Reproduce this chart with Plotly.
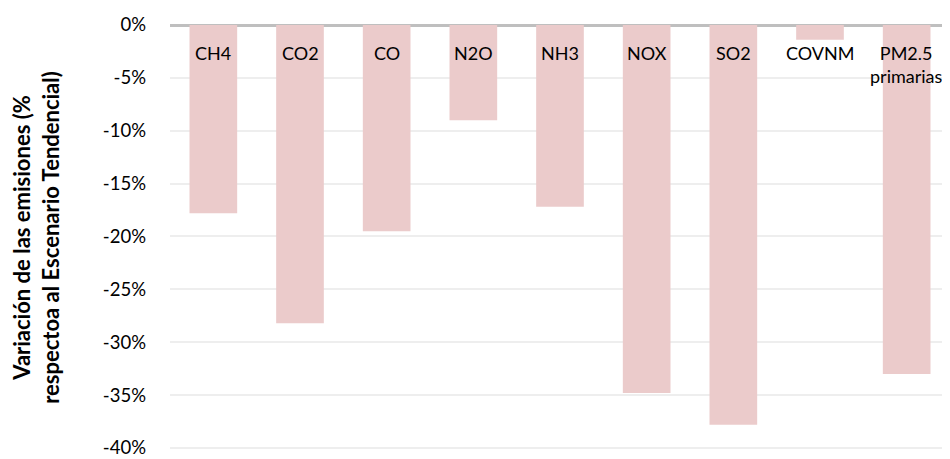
import plotly.graph_objects as go

categories = ["CH4", "CO2", "CO", "N2O", "NH3", "NOX", "SO2", "COVNM", "PM2.5<br>primarias"]
variation = [-17.8, -28.2, -19.5, -9.0, -17.2, -34.8, -37.8, -1.4, -33.0]

tick_vals = [0, -5, -10, -15, -20, -25, -30, -35, -40]
tick_text = ["0%", "-5%", "-10%", "-15%", "-20%", "-25%", "-30%", "-35%", "-40%"]

font_family = "Lato, Open Sans, sans-serif"

fig = go.Figure()

fig.add_trace(go.Bar(
    x=categories,
    y=variation,
    marker=dict(color="#ebcbcb", line=dict(width=0)),
    width=0.55,
    hoverinfo="x+y",
))

# category labels sit at the top, just under the zero line
for cat in categories:
    fig.add_annotation(
        x=cat, y=0, xref="x", yref="y",
        text=cat, showarrow=False,
        yanchor="top", yshift=-15,
        font=dict(family=font_family, size=18, color="#000000"),
    )

# page body has an 8px margin, so the figure is 8px smaller
fig.update_layout(
    width=942, height=451,
    margin=dict(l=162, r=0, t=17, b=9),
    paper_bgcolor="white",
    plot_bgcolor="white",
    showlegend=False,
    font=dict(family=font_family, size=19, color="#000000"),
    xaxis=dict(
        showticklabels=False,
        showgrid=False,
        zeroline=False,
        showline=False,
        automargin=False,
    ),
    yaxis=dict(
        range=[-40.2, 0],
        tickvals=tick_vals,
        ticktext=tick_text,
        automargin=False,
        showgrid=True,
        gridcolor="#eeeeee",
        gridwidth=1.5,
        zeroline=True,
        zerolinecolor="#bfbfbf",
        zerolinewidth=2.5,
        ticklabelstandoff=23,
        ticklabeloverflow="allow",
        tickfont=dict(size=18.5),
        title=dict(
            text="<b>Variación de las emisiones (%<br>respectoa al Escenario Tendencial)</b>",
            font=dict(size=22),
            standoff=38,
        ),
    ),
)

fig.write_html("out.html")
